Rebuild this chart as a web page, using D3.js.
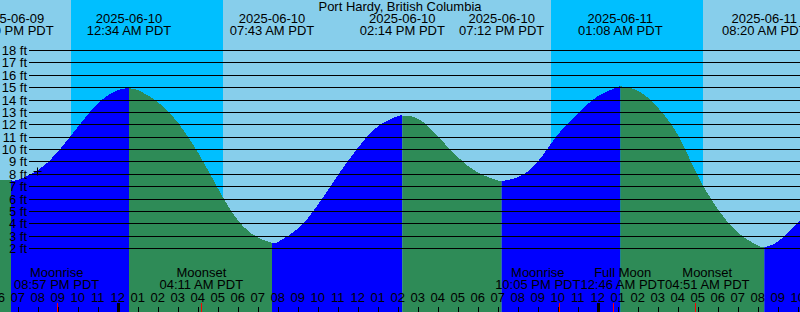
<!DOCTYPE html>
<html>
<head>
<meta charset="utf-8">
<script src="https://cdn.jsdelivr.net/npm/d3@7"></script>
<style>
  body { margin: 0; background: #fff; }
  svg { display: block; font-family: "Liberation Sans", Arial, sans-serif; }
</style>
</head>
<body>
<div id="chart"></div>
<script>
// tide heights (ft), hourly plus the turning points
const tideTimes = [
  "2025-06-09 18:00", "2025-06-09 18:40", "2025-06-09 19:00", "2025-06-09 20:00",
  "2025-06-09 21:00", "2025-06-09 22:00", "2025-06-09 23:00", "2025-06-10 00:00",
  "2025-06-10 00:34", "2025-06-10 01:00", "2025-06-10 02:00", "2025-06-10 03:00",
  "2025-06-10 04:00", "2025-06-10 05:00", "2025-06-10 06:00", "2025-06-10 07:00",
  "2025-06-10 07:43", "2025-06-10 08:00", "2025-06-10 09:00", "2025-06-10 10:00",
  "2025-06-10 11:00", "2025-06-10 12:00", "2025-06-10 13:00", "2025-06-10 14:00",
  "2025-06-10 14:14", "2025-06-10 15:00", "2025-06-10 16:00", "2025-06-10 17:00",
  "2025-06-10 18:00", "2025-06-10 19:00", "2025-06-10 19:12", "2025-06-10 20:00",
  "2025-06-10 21:00", "2025-06-10 22:00", "2025-06-10 23:00", "2025-06-11 00:00",
  "2025-06-11 01:00", "2025-06-11 01:08", "2025-06-11 02:00", "2025-06-11 03:00",
  "2025-06-11 04:00", "2025-06-11 05:00", "2025-06-11 06:00", "2025-06-11 07:00",
  "2025-06-11 08:00", "2025-06-11 08:20", "2025-06-11 09:00", "2025-06-11 10:00",
  "2025-06-11 10:10"
];
const tideFeet = [
  7.55, 7.5, 7.55, 8.3,
  9.8, 11.8, 13.7, 14.8,
  14.93, 14.8, 13.84, 12.2,
  9.8, 6.9, 4.3, 2.9,
  2.47, 2.52, 3.6, 5.5,
  7.9, 10.1, 11.85, 12.69,
  12.74, 12.5, 11.07, 9.4,
  8.15, 7.5, 7.46, 7.75,
  9.0, 11.2, 12.9, 14.3,
  15.05, 15.11, 14.75, 13.4,
  11.2, 7.9, 5.2, 3.3,
  2.25, 2.13, 2.55, 4.06,
  4.5
];

// highs and lows (header labels, and where the fill colour changes)
const extremeTimes = [
  "2025-06-09 18:40", "2025-06-10 00:34", "2025-06-10 07:43", "2025-06-10 14:14",
  "2025-06-10 19:12", "2025-06-11 01:08", "2025-06-11 08:20"
];

// night = between sunset and sunrise
const sunsetTimes = ["2025-06-09 21:40", "2025-06-10 21:40"];
const sunriseTimes = ["2025-06-10 05:16", "2025-06-11 05:16"];

const moonEvents = ["Moonrise", "Moonset", "Moonrise", "Full Moon", "Moonset"];
const moonTimes = ["2025-06-09 20:57", "2025-06-10 04:11", "2025-06-10 22:05", "2025-06-11 00:46", "2025-06-11 04:51"];

const feetTicks = [2, 3, 4, 5, 6, 7, 8, 9, 10, 11, 12, 13, 14, 15, 16, 17, 18];

const nowTime = "2025-06-09 19:58";
const nowFeet = 8.3;

const title = "Port Hardy, British Columbia";

let width = 800;
let height = 312;

const parse = d3.timeParse("%Y-%m-%d %H:%M");
const fmtDate = d3.timeFormat("%Y-%m-%d");
const fmtTime = d3.timeFormat("%I:%M %p PDT");
const fmtHour = d3.timeFormat("%I");

let start = parse("2025-06-09 18:07");
let end = parse("2025-06-11 10:07");

// set the ranges
let x = d3.scaleTime().domain([start, end]).range([0, width]);
let y = d3.scaleLinear().domain([0, 18]).range([273.25, 50.5]);

let svg = d3.select("#chart").append("svg")
    .attr("width", width)
    .attr("height", height);

// day / night background
svg.append("rect")
    .attr("width", width).attr("height", height)
    .attr("fill", "#87ceeb");

svg.selectAll(".night")
    .data(sunsetTimes.map((d, i) => [parse(d), parse(sunriseTimes[i])]))
    .enter().append("rect")
    .attr("class", "night")
    .attr("x", d => x(d[0]))
    .attr("width", d => x(d[1]) - x(d[0]))
    .attr("y", 0)
    .attr("height", height)
    .attr("fill", "#00bfff");

// tide area, blue while rising, green while falling
let tide = tideTimes.map((t, i) => ({ t: parse(t), v: tideFeet[i] }));
let area = d3.area()
    .curve(d3.curveNatural)
    .x(d => x(d.t))
    .y0(height)
    .y1(d => y(d.v));

let bounds = [start].concat(extremeTimes.map(parse)).concat([end]);
let defs = svg.append("defs");
for (let i = 0; i < bounds.length - 1; i++) {
    let x0 = Math.max(0, x(bounds[i]));
    let x1 = Math.min(width, x(bounds[i + 1]));
    defs.append("clipPath").attr("id", "seg" + i)
        .append("rect")
        .attr("x", x0).attr("y", 0)
        .attr("width", x1 - x0).attr("height", height);
    // first segment falls into the first low
    let rising = i % 2 === 1;
    svg.append("path")
        .datum(tide)
        .attr("clip-path", "url(#seg" + i + ")")
        .attr("fill", rising ? "#0000ff" : "#2e8b57")
        .attr("shape-rendering", "crispEdges")
        .attr("d", area);
}

// height lines
svg.selectAll(".hline")
    .data(feetTicks)
    .enter().append("line")
    .attr("x1", 29).attr("x2", width)
    .attr("y1", d => Math.floor(y(d)) + 0.5)
    .attr("y2", d => Math.floor(y(d)) + 0.5)
    .attr("stroke", "#000")
    .attr("stroke-width", 1);

svg.selectAll(".flabel")
    .data(feetTicks)
    .enter().append("text")
    .attr("x", 27)
    .attr("y", d => Math.floor(y(d)) + 4.5)
    .attr("text-anchor", "end")
    .attr("font-size", 13)
    .text(d => d + " ft");

// header
svg.append("text")
    .attr("x", width / 2).attr("y", 11)
    .attr("text-anchor", "middle")
    .attr("font-size", 13)
    .text(title);

let ext = svg.selectAll(".ext")
    .data(extremeTimes.map(parse))
    .enter().append("g");
ext.append("text")
    .attr("x", d => x(d)).attr("y", 23)
    .attr("text-anchor", "middle").attr("font-size", 13)
    .text(d => fmtDate(d));
ext.append("text")
    .attr("x", d => x(d)).attr("y", 35)
    .attr("text-anchor", "middle").attr("font-size", 13)
    .text(d => fmtTime(d));

// moon events - labels pushed apart when they would overlap
let moonData = moonTimes.map((t, i) => ({ t: parse(t), name: moonEvents[i] }));
let moon = svg.selectAll(".moon")
    .data(moonData)
    .enter().append("g");
let mName = moon.append("text")
    .attr("y", 277)
    .attr("text-anchor", "middle").attr("font-size", 13)
    .text(d => d.name);
let mTime = moon.append("text")
    .attr("y", 289)
    .attr("text-anchor", "middle").attr("font-size", 13)
    .text(d => fmtTime(d.t));

moonData.forEach((d, i) => {
    d.w = Math.max(mName.nodes()[i].getComputedTextLength(), mTime.nodes()[i].getComputedTextLength());
    d.c = x(d.t);
});
let clusters = moonData.map(d => ({ items: [d], want: [d.c] }));
let place = cl => {
    let w = d3.sum(cl.items, d => d.w);
    let s = d3.mean(cl.want) - w / 2;
    cl.s = s; cl.e = s + w;
};
clusters.forEach(place);
let merged = true;
while (merged) {
    merged = false;
    for (let i = 0; i < clusters.length - 1; i++) {
        if (clusters[i].e > clusters[i + 1].s) {
            clusters[i].items = clusters[i].items.concat(clusters[i + 1].items);
            clusters[i].want = clusters[i].want.concat(clusters[i + 1].want);
            clusters.splice(i + 1, 1);
            place(clusters[i]);
            merged = true;
            break;
        }
    }
}
clusters.forEach(cl => {
    let s = cl.s;
    cl.items.forEach(d => { d.lx = s + d.w / 2; s += d.w; });
});
mName.attr("x", d => d.lx);
mTime.attr("x", d => d.lx);

// hour labels and ticks
let hours = d3.timeHour.range(d3.timeHour.floor(start), d3.timeHour.ceil(end));
svg.selectAll(".hlabel")
    .data(hours)
    .enter().append("text")
    .attr("x", d => x(d)).attr("y", 302)
    .attr("text-anchor", "middle").attr("font-size", 13)
    .text(d => fmtHour(d));

svg.selectAll(".htick")
    .data(hours)
    .enter().append("line")
    .attr("x1", d => Math.round(x(d)) + 0.5).attr("x2", d => Math.round(x(d)) + 0.5)
    .attr("y1", 307).attr("y2", height)
    .attr("stroke", "#000");

svg.selectAll(".mtick")
    .data(moonTimes.map(parse))
    .enter().append("line")
    .attr("x1", d => Math.round(x(d)) + 0.5).attr("x2", d => Math.round(x(d)) + 0.5)
    .attr("y1", 303).attr("y2", height)
    .attr("stroke", "#ff0000");

svg.selectAll(".dtick")
    .data(d3.timeDay.range(start, end))
    .enter().append("rect")
    .attr("x", d => Math.round(x(d)) - 1).attr("width", 3)
    .attr("y", 303).attr("height", height - 303)
    .attr("fill", "#000");

// current time marker
let nx = Math.round(x(parse(nowTime))) + 0.5;
let ny = Math.round(y(nowFeet)) + 0.5;
svg.append("path")
    .attr("d", "M" + (nx - 4) + "," + ny + "H" + (nx + 4) + "M" + nx + "," + (ny - 4) + "V" + (ny + 4))
    .attr("stroke", "#000")
    .attr("fill", "none");
</script>
</body>
</html>
